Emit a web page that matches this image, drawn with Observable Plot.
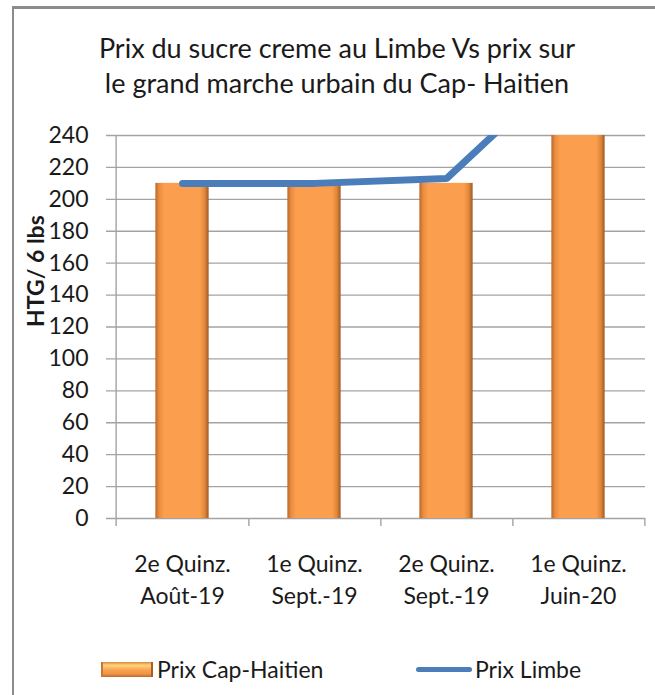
<!DOCTYPE html>
<html>
<head>
<meta charset="utf-8">
<script src="https://cdn.jsdelivr.net/npm/d3@7"></script>
<script src="https://cdn.jsdelivr.net/npm/@observablehq/plot@0.6"></script>
<style>
  html, body { margin: 0; padding: 0; background: #fff; }
  body { width: 655px; height: 695px; position: relative; overflow: hidden; font-family: Lato, "Open Sans", sans-serif; color: #1a1a1a; }
  #frame { position: absolute; left: 12px; top: 6px; width: 641px; height: 760px; border-left: 2px solid #8c8c8c; border-top: 3px solid #8c8c8c; }
  #title { position: absolute; left: 0; width: 674px; top: 30px; text-align: center; font-size: 27px; line-height: 35px; }
  #chart { position: absolute; left: 0; top: 120px; }
  #legend { position: absolute; top: 655px; left: 0; width: 655px; height: 28px; font-size: 23px; }
  .li { position: absolute; top: 0; display: flex; align-items: center; height: 28px; }
  .sw-bar { width: 52px; height: 15px; background: linear-gradient(to bottom, #d7893c 0%, #ffd37c 22%, #f9a050 55%, #ef9445 80%, #b9682a 100%); margin-right: 4px; box-sizing: border-box; border-left: 2px solid #c57834; border-right: 2px solid #a65f26; }
  .sw-line { width: 56px; height: 5px; background: #4a7dba; border-radius: 3px; margin-right: 3px; }
</style>
</head>
<body>
<div id="frame"></div>
<div id="title">Prix du sucre creme au Limbe Vs prix sur<br>le grand marche urbain du Cap- Haitien</div>
<div id="chart"></div>
<div id="legend">
  <div class="li" style="left:101px"><div class="sw-bar"></div><span>Prix Cap-Haitien</span></div>
  <div class="li" style="left:416px"><div class="sw-line"></div><span>Prix Limbe</span></div>
</div>
<script>
const categories = ["2e Quinz.\nAoût-19", "1e Quinz.\nSept.-19", "2e Quinz.\nSept.-19", "1e Quinz.\nJuin-20"];
const prixCapHaitien = [210, 210, 210, 250];
const prixLimbe = [210, 210, 213, 290];
const yTicks = [0, 20, 40, 60, 80, 100, 120, 140, 160, 180, 200, 220, 240];

const rows = categories.map((c, i) => ({cat: c, cap: prixCapHaitien[i], limbe: prixLimbe[i]}));

const W = 655, H = 480, mL = 114, mR = 10, mT = 15, mB = 82;
const band = (W - mL - mR) / categories.length;
const barW = 54;
const inset = (band - barW) / 2;

const chart = Plot.plot({
  width: W,
  height: H,
  marginLeft: mL,
  marginRight: mR,
  marginTop: mT,
  marginBottom: mB,
  style: {fontFamily: "Lato, 'Open Sans', sans-serif", fontSize: "23px", color: "#1a1a1a", background: "transparent", overflow: "visible"},
  x: {domain: categories, padding: 0, label: null},
  y: {domain: [0, 240], label: null},
  marks: [
    Plot.ruleY(yTicks, {stroke: "#a3a3a3", strokeWidth: 1.4, insetLeft: -8}),
    Plot.ruleX([categories[0]], {dx: -band / 2, y1: 240, y2: 0, insetBottom: -8, stroke: "#a3a3a3", strokeWidth: 1.4}),
    Plot.ruleX(categories, {dx: band / 2, y1: 0, y2: 0, insetBottom: -8, stroke: "#a3a3a3", strokeWidth: 1.4}),
    Plot.barY(rows, {x: "cat", y: "cap", fill: "url(#barGrad)", insetLeft: inset, insetRight: inset, clip: true}),
    Plot.line(rows, {x: "cat", y: "limbe", stroke: "#4a7dba", strokeWidth: 7, strokeLinecap: "round", strokeLinejoin: "miter", clip: true}),
    Plot.axisY(yTicks, {tickSize: 0, tickPadding: 26, fontSize: 23, label: null}),
    Plot.axisX({tickSize: 0, tickPadding: 31, fontSize: 23, lineHeight: 1.39, label: null}),
    Plot.text(["HTG/ 6 lbs"], {frameAnchor: "left", dx: -78, dy: 0, rotate: -90, fontWeight: "bold", fontSize: 23, fill: "#1a1a1a"})
  ]
});

// gradient definition for cylinder-like bars
const ns = "http://www.w3.org/2000/svg";
const defs = document.createElementNS(ns, "defs");
defs.innerHTML = `
  <linearGradient id="barGrad" x1="0" x2="1" y1="0" y2="0">
    <stop offset="0" stop-color="#b9692a"/>
    <stop offset="0.07" stop-color="#e98c3e"/>
    <stop offset="0.16" stop-color="#fb9f4e"/>
    <stop offset="0.84" stop-color="#fb9f4e"/>
    <stop offset="0.93" stop-color="#e0853a"/>
    <stop offset="1" stop-color="#9c5a25"/>
  </linearGradient>`;
chart.insertBefore(defs, chart.firstChild);
document.getElementById("chart").appendChild(chart);
</script>
</body>
</html>
